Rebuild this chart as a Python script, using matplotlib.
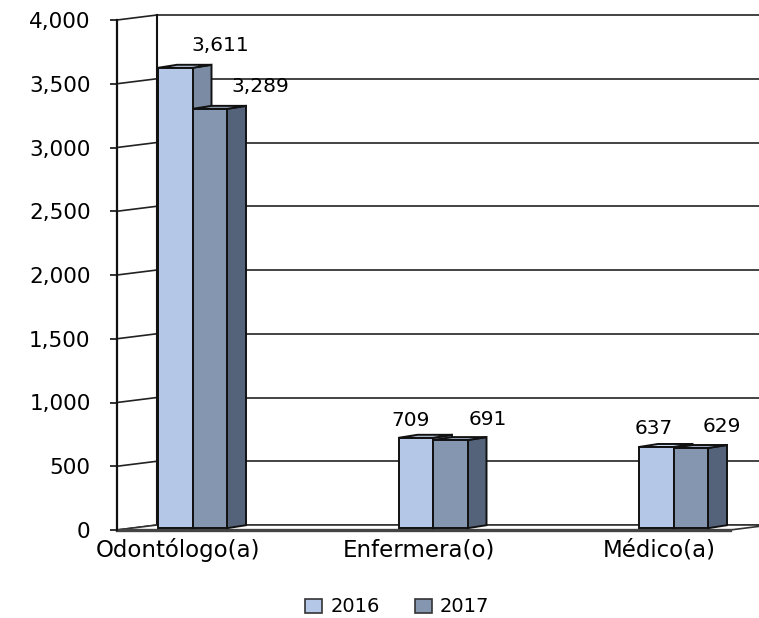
import matplotlib.pyplot as plt
from matplotlib.patches import Polygon, Patch
from matplotlib.ticker import FuncFormatter

# Datos
categorias = ["Odontólogo(a)", "Enfermera(o)", "Médico(a)"]
anios = ["2016", "2017"]
valores_2016 = [3611, 709, 637]
valores_2017 = [3289, 691, 629]

# Colores (cara frontal, lateral, superior)
col_2016 = ("#b4c7e7", "#7b8ba3", "#c9d7ee")
col_2017 = ("#8597b0", "#55637a", "#9aaac0")

# Desplazamientos de etiqueta en pixeles (x, y) por serie
etq_2016 = [(45, 22), (-5, 17), (-2, 18)]
etq_2017 = [(51, 22), (38, 21), (31, 22)]

W, H = 759, 618
fig = plt.figure(figsize=(W / 100, H / 100), dpi=100)

# Geometria en pixeles
x_axis_px, y0_px, y4000_px = 117, 530, 20
cat_px = 178
sx = 240.5
sy = (y0_px - y4000_px) / 4000

ax = fig.add_axes([x_axis_px / W, (H - y0_px) / H, (W - x_axis_px) / W, (y0_px - y4000_px) / H])
xmin = (x_axis_px - cat_px) / sx
xmax = (W - cat_px) / sx
ax.set_xlim(xmin, xmax)
ax.set_ylim(0, 4000)

# Profundidad del piso / pared y de las barras (en unidades de datos)
dx, dy = 40 / sx, 5 / sy
fx, fy = 14.5 / sx, 1.8 / sy
bx, by = 19 / sx, 3 / sy
ancho = 34.5 / sx
x_piso_der = (730 - cat_px) / sx

ticks = list(range(0, 4001, 500))

# Pared lateral
ax.add_patch(Polygon([(xmin, 0), (xmin + dx, dy), (xmin + dx, 4000 + dy), (xmin, 4000)],
                     closed=True, facecolor="white", edgecolor="none", zorder=0, clip_on=False))
for t in ticks:
    ax.plot([xmin, xmin + dx], [t, t + dy], color="#222222", lw=1.2, zorder=1, clip_on=False)
    ax.plot([xmin + dx, xmax + 1], [t + dy, t + dy], color="#222222", lw=1.2, zorder=1, clip_on=False)
ax.plot([xmin + dx, xmin + dx], [dy, 4000 + dy], color="#111111", lw=1.5, zorder=1, clip_on=False)

# Piso
ax.add_patch(Polygon([(xmin, 0), (x_piso_der, 0), (x_piso_der + dx, dy), (xmin + dx, dy)],
                     closed=True, facecolor="white", edgecolor="#333333", lw=1.2, zorder=2, clip_on=False))
ax.plot([xmin, x_piso_der], [0, 0], color="#444444", lw=2.4, zorder=2, clip_on=False)


def barra(xc, v, colores):
    x0, x1 = xc - ancho / 2 + fx, xc + ancho / 2 + fx
    b, h = fy, v + fy
    frente = [(x0, b), (x1, b), (x1, h), (x0, h)]
    lado = [(x1, b), (x1 + bx, b + by), (x1 + bx, h + by), (x1, h)]
    arriba = [(x0, h), (x1, h), (x1 + bx, h + by), (x0 + bx, h + by)]
    for pts, c in ((lado, colores[1]), (arriba, colores[2]), (frente, colores[0])):
        ax.add_patch(Polygon(pts, closed=True, facecolor=c, edgecolor="#111111",
                             lw=1.4, zorder=3, clip_on=False, joinstyle="miter"))
    return (x0 + x1) / 2, h


for i in range(len(categorias)):
    for serie, vals, col, etq in ((0, valores_2016, col_2016, etq_2016), (1, valores_2017, col_2017, etq_2017)):
        xc = i + (serie - 0.5) * ancho
        cx, top = barra(xc, vals[i], col)
        ax.annotate(f"{vals[i]:,}", (cx, top), xytext=etq[i], textcoords="offset pixels",
                    ha="center", va="center", fontsize=14.5, zorder=5)

# Ejes
for s in ("top", "right", "bottom"):
    ax.spines[s].set_visible(False)
ax.spines["left"].set_color("#111111")
ax.spines["left"].set_linewidth(1.6)
ax.spines["left"].set_zorder(4)
ax.set_yticks(ticks)
ax.yaxis.set_major_formatter(FuncFormatter(lambda v, p: f"{int(v):,}"))
ax.tick_params(axis="y", length=5, width=1.2, pad=14, labelsize=15.5, color="#111111")
ax.set_xticks(range(len(categorias)))
ax.set_xticklabels(categorias, fontsize=16.5)
ax.tick_params(axis="x", length=0, pad=6)
ax.patch.set_visible(False)

handles = [Patch(facecolor=col_2016[0], edgecolor="#333333", lw=1.2),
           Patch(facecolor=col_2017[0], edgecolor="#333333", lw=1.2)]
fig.legend(handles, anios, loc="center", bbox_to_anchor=(397 / W, 1 - 607 / H), ncol=2,
           frameon=False, fontsize=14, handlelength=0.9, handleheight=0.7,
           handletextpad=0.4, columnspacing=1.8)

fig.savefig("out.png", dpi=100)
